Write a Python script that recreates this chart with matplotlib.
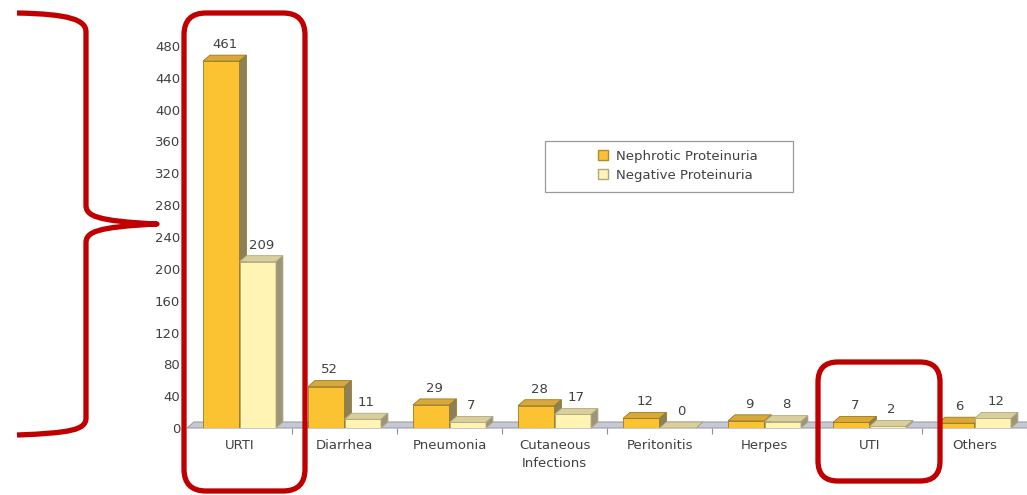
import matplotlib
matplotlib.use("Agg")
import matplotlib.pyplot as plt
from matplotlib.patches import Polygon, FancyBboxPatch, PathPatch, Rectangle
from matplotlib.path import Path
from matplotlib.lines import Line2D

categories = ["URTI", "Diarrhea", "Pneumonia", "Cutaneous\nInfections",
              "Peritonitis", "Herpes", "UTI", "Others"]
nephrotic = [461, 52, 29, 28, 12, 9, 7, 6]
negative = [209, 11, 7, 17, 0, 8, 2, 12]
series_names = ["Nephrotic Proteinuria", "Negative Proteinuria"]
yticks = list(range(0, 481, 40))

W, H = 1027, 495
fig = plt.figure(figsize=(W / 100, H / 100), dpi=100)
fig.patch.set_facecolor("white")

# main axes in pixel layout
px_per_cat = 106.4
x_left_px = 187
y0_px = 428
y480_px = 46
ax = fig.add_axes([x_left_px / W, (H - y0_px) / H, (W - x_left_px) / W,
                   (y0_px - y480_px) / H])
xmax = -0.5 + (W - x_left_px) / px_per_cat
ax.set_xlim(-0.5, xmax)
ax.set_ylim(0, 480)
for s in ax.spines.values():
    s.set_visible(False)
ax.patch.set_alpha(0)

px_per_unit = (y0_px - y480_px) / 480
DX = 7 / px_per_cat
DY = 6 / px_per_unit
BW = 37 / px_per_cat

txt_color = "#404040"
fs = 9.5

# floor
floor = Polygon([(-0.5, 0), (xmax + 1, 0), (xmax + 1 + DX, DY), (-0.5 + DX, DY)],
                closed=True, facecolor="#c6c9d3", edgecolor="#9c9fa9", lw=0.8,
                zorder=1, clip_on=False)
ax.add_patch(floor)

styles = [
    dict(front="#fbc232", top="#d9a83a", side="#8c8058", edge="#9a7a20"),
    dict(front="#fff4b4", top="#d8cf9c", side="#9d957a", edge="#b0a880"),
]


def draw_bar(x0, h, st, z):
    ax.add_patch(Rectangle((x0, 0), BW, h, facecolor=st["front"],
                           edgecolor=st["edge"], lw=0.6, zorder=z))
    ax.add_patch(Polygon([(x0, h), (x0 + BW, h), (x0 + BW + DX, h + DY), (x0 + DX, h + DY)],
                         closed=True, facecolor=st["top"], edgecolor=st["edge"],
                         lw=0.6, zorder=z))
    ax.add_patch(Polygon([(x0 + BW, 0), (x0 + BW + DX, DY), (x0 + BW + DX, h + DY), (x0 + BW, h)],
                         closed=True, facecolor=st["side"], edgecolor=st["edge"],
                         lw=0.6, zorder=z))


for i, (a, b) in enumerate(zip(nephrotic, negative)):
    draw_bar(i - BW, a, styles[0], 3 + 2 * i)
    draw_bar(i, b, styles[1], 4 + 2 * i)
    ax.annotate(str(a), (i - BW / 2 + DX / 2, a + DY), xytext=(0, 3),
                textcoords="offset points", ha="center", va="bottom",
                fontsize=fs, color=txt_color, zorder=30)
    ax.annotate(str(b), (i + BW / 2 + DX / 2, b + DY), xytext=(0, 3),
                textcoords="offset points", ha="center", va="bottom",
                fontsize=fs, color=txt_color, zorder=30)

ax.set_xticks(range(len(categories)))
ax.set_xticklabels(categories, fontsize=fs, color=txt_color, linespacing=1.5)
ax.set_xticks([k + 0.5 for k in range(len(categories))], minor=True)
ax.tick_params(axis="x", which="major", length=0, pad=8)
ax.tick_params(axis="x", which="minor", length=4, color="#909090", width=0.8)
ax.set_yticks(yticks)
ax.set_yticklabels([str(v) for v in yticks], fontsize=fs, color=txt_color)
ax.tick_params(axis="y", length=0, pad=5)

# legend
fig.patches.append(Rectangle((545 / W, 1 - 192 / H), (793 - 545) / W, (192 - 141) / H,
                             transform=fig.transFigure, facecolor="white",
                             edgecolor="#9a9a9a", lw=0.9, zorder=5))
handles = [Line2D([], [], marker="s", linestyle="none", markersize=7,
                  markerfacecolor=styles[0]["front"], markeredgecolor="#b08a30"),
           Line2D([], [], marker="s", linestyle="none", markersize=7,
                  markerfacecolor=styles[1]["front"], markeredgecolor="#b0a880")]
leg = fig.legend(handles, series_names, loc="center left",
                 bbox_to_anchor=(596 / W, 1 - 166 / H), frameon=False,
                 fontsize=fs, handlelength=1.0, handletextpad=0.5,
                 labelspacing=0.45, borderpad=0, borderaxespad=0)
for t in leg.get_texts():
    t.set_color(txt_color)
leg.set_zorder(6)

# red annotation overlay (pixel coordinates)
ov = fig.add_axes([0, 0, 1, 1], zorder=10)
ov.set_xlim(0, W)
ov.set_ylim(H, 0)
ov.axis("off")
ov.patch.set_alpha(0)
red = "#c00000"
lw = 3.8
ov.add_patch(FancyBboxPatch((184, 13), 305 - 184, 491 - 13,
                            boxstyle="round,pad=0,rounding_size=22",
                            facecolor="none", edgecolor=red, lw=lw))
ov.add_patch(FancyBboxPatch((818, 362), 940 - 818, 481 - 362,
                            boxstyle="round,pad=0,rounding_size=20",
                            facecolor="none", edgecolor=red, lw=lw))
verts = [(17, 13), (70, 14), (86, 20), (86, 32),
         (86, 205),
         (86, 216), (96, 221), (157, 224),
         (96, 227), (86, 232), (86, 243),
         (86, 418),
         (86, 430), (70, 433), (17, 435)]
codes = [Path.MOVETO, Path.CURVE4, Path.CURVE4, Path.CURVE4,
         Path.LINETO,
         Path.CURVE4, Path.CURVE4, Path.CURVE4,
         Path.CURVE4, Path.CURVE4, Path.CURVE4,
         Path.LINETO,
         Path.CURVE4, Path.CURVE4, Path.CURVE4]
ov.add_patch(PathPatch(Path(verts, codes), facecolor="none", edgecolor=red,
                       lw=lw, capstyle="butt", joinstyle="round"))

fig.savefig("out.png", dpi=100)
